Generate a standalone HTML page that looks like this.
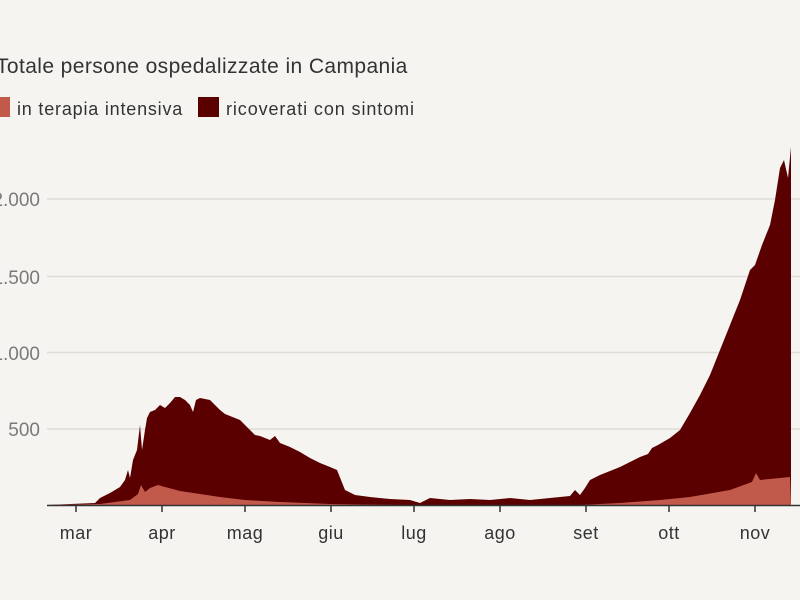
<!DOCTYPE html>
<html><head><meta charset="utf-8"><style>
html,body{margin:0;padding:0;background:#f5f4f0;}
body{width:800px;height:600px;overflow:hidden;position:relative;font-family:"Liberation Sans",sans-serif;}
</style></head><body>
<svg width="800" height="600" viewBox="0 0 800 600" xmlns="http://www.w3.org/2000/svg" style="position:absolute;left:0;top:0">
<rect width="800" height="600" fill="#f5f4f0"/>
<text x="-4" y="73" font-family="Liberation Sans, sans-serif" font-size="21" letter-spacing="0.4" fill="#333">Totale persone ospedalizzate in Campania</text>
<rect x="-6" y="97" width="16" height="20" fill="#c25a4c"/>
<text x="17" y="115" font-family="Liberation Sans, sans-serif" font-size="18" letter-spacing="0.8" fill="#333">in terapia intensiva</text>
<rect x="198" y="97" width="21" height="20" fill="#5a0000"/>
<text x="226" y="115" font-family="Liberation Sans, sans-serif" font-size="18" letter-spacing="0.9" fill="#333">ricoverati con sintomi</text>
<g stroke="#dddbd6" stroke-width="1.5">
<line x1="47" y1="199" x2="800" y2="199"/>
<line x1="47" y1="276.5" x2="800" y2="276.5"/>
<line x1="47" y1="352.5" x2="800" y2="352.5"/>
<line x1="47" y1="429" x2="800" y2="429"/>
</g>
<g font-family="Liberation Sans, sans-serif" font-size="19" fill="#7a7a7a" text-anchor="end">
<text x="40" y="206">2.000</text>
<text x="40" y="284">1.500</text>
<text x="40" y="360">1.000</text>
<text x="40" y="436">500</text>
</g>
<polygon fill="#5a0000" points="47,505 95,503 100,498 110,493 120,487 125,480 128,470 130,478 133,460 137,450 140,425 142,450 145,430 147,418 150,412 155,410 160,405 165,408 170,403 175,397 180,397 185,400 190,405 193,412 196,400 200,398 210,400 215,405 220,410 225,414 230,416 240,420 245,425 250,430 255,435 260,436 270,440 275,436 280,443 290,447 300,452 310,458 320,463 330,467 337,470 345,490 355,495 370,497 390,499 410,500 420,503 430,498 450,500 470,499 490,500 510,498 530,500 550,498 570,496 575,490 580,495 585,488 590,480 600,475 610,471 620,467 630,462 640,457 648,454 652,448 658,445 670,438 680,430 690,413 700,395 710,375 720,350 730,325 740,300 750,270 755,265 762,245 770,225 775,200 780,168 784,160 788,178 791,147 791,505"/>
<polygon fill="#c25a4c" points="47,505 100,504 130,500 138,494 141,485 145,492 150,488 158,485 165,487 180,491 200,494 220,497 245,500 280,502 330,504 400,505 580,505 620,503 660,500 690,497 730,490 752,482 756,473 760,480 790,477 791,505"/>
<line x1="47" y1="505.5" x2="800" y2="505.5" stroke="#333" stroke-width="1.5"/>
<g stroke="#333" stroke-width="1.5">
<line x1="76" y1="505" x2="76" y2="512"/><line x1="162" y1="505" x2="162" y2="512"/>
<line x1="245" y1="505" x2="245" y2="512"/><line x1="331" y1="505" x2="331" y2="512"/>
<line x1="414" y1="505" x2="414" y2="512"/><line x1="500" y1="505" x2="500" y2="512"/>
<line x1="586" y1="505" x2="586" y2="512"/><line x1="669" y1="505" x2="669" y2="512"/>
<line x1="755" y1="505" x2="755" y2="512"/>
</g>
<g font-family="Liberation Sans, sans-serif" font-size="18" letter-spacing="0.5" fill="#333" text-anchor="middle">
<text x="76" y="539">mar</text><text x="162" y="539">apr</text><text x="245" y="539">mag</text>
<text x="331" y="539">giu</text><text x="414" y="539">lug</text><text x="500" y="539">ago</text>
<text x="586" y="539">set</text><text x="669" y="539">ott</text><text x="755" y="539">nov</text>
</g>
</svg>
</body></html>
